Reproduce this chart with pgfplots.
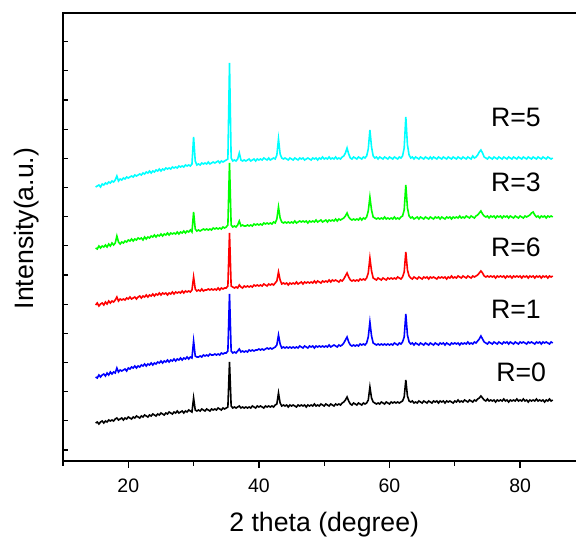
\documentclass[border=0pt]{standalone}
\usepackage{fontspec}
\setmainfont{Liberation Sans}
\usepackage{pgfplots}
\usepackage{pgfplotstable}
\pgfplotsset{compat=1.18}
\definecolor{xcyan}{RGB}{0,255,255}
\definecolor{xgreen}{RGB}{0,255,0}
\definecolor{xblue}{RGB}{0,0,255}
\definecolor{xred}{RGB}{255,0,0}
% x = 2theta, k = R=0, b = R=1, r = R=6, g = R=3, c = R=5 (offset stack, arbitrary units)
\pgfplotstableread{
x k b r g c
15.00 38 84 156 213 274
15.25 39 83 158 212 275
15.50 37 86 155 215 276
15.75 39 84 157 213 274
16.00 40 86 158 215 277
16.25 38 87 156 214 276
16.50 40 85 159 216 278
16.75 39 88 157 214 277
17.00 41 86 160 217 279
17.25 40 89 158 215 278
17.50 41 87 160 218 280
17.75 40 89 159 216 279
18.00 42 88 161 218 281
18.25 43 93 164 225 285
18.50 41 89 160 219 280
18.75 42 91 162 217 282
19.00 43 90 161 219 281
19.25 41 91 162 218 283
19.50 43 92 161 220 282
19.75 42 90 163 219 284
20.00 44 93 162 221 283
20.25 43 92 164 220 284
20.50 42 94 162 222 285
20.75 44 93 163 220 284
21.00 43 95 164 222 286
21.25 45 93 162 221 285
21.50 44 95 164 223 286
21.75 43 94 165 222 287
22.00 45 96 163 223 286
22.25 44 95 165 221 288
22.50 46 97 164 224 287
22.75 45 95 166 222 289
23.00 44 97 164 224 288
23.25 46 96 166 223 290
23.50 45 98 165 225 288
23.75 47 96 167 224 290
24.00 46 98 165 226 289
24.25 45 97 167 224 291
24.50 47 99 166 226 290
24.75 46 98 168 225 292
25.00 48 100 166 227 290
25.25 47 98 168 225 292
25.50 46 100 167 227 291
25.75 48 99 168 226 293
26.00 47 101 166 228 292
26.25 49 99 168 226 293
26.50 48 101 167 228 292
26.75 47 100 169 227 294
27.00 49 102 167 228 293
27.25 48 100 169 227 294
27.50 50 102 168 229 293
27.75 48 101 169 227 295
28.00 49 103 168 229 294
28.25 50 101 170 228 295
28.50 48 103 168 230 294
28.75 50 102 170 228 296
29.00 49 104 169 230 295
29.25 51 102 170 229 296
29.50 50 104 169 231 295
29.75 49 103 171 229 297
30.00 63 120 184 249 324
30.25 51 105 172 232 300
30.50 50 104 170 230 296
30.75 51 104 171 231 297
31.00 50 105 170 230 296
31.25 52 104 172 231 298
31.50 51 106 170 232 297
31.75 50 105 171 231 298
32.00 52 106 171 232 297
32.25 51 105 172 231 299
32.50 50 107 171 232 297
32.75 52 106 172 231 298
33.00 51 106 171 233 299
33.25 52 107 172 232 298
33.50 51 106 171 233 299
33.75 53 107 173 232 300
34.00 52 106 171 233 298
34.25 51 108 173 232 300
34.50 53 107 172 234 299
34.75 52 108 173 233 300
35.00 53 108 173 234 301
35.25 54 110 175 236 302
35.50 99 167 228 298 398
35.75 55 110 175 236 303
36.00 53 108 174 234 300
36.25 54 109 173 235 301
36.50 53 108 174 234 300
36.75 54 110 173 236 302
37.00 55 112 176 240 308
37.25 53 109 174 235 301
37.50 54 110 173 236 300
37.75 53 109 175 235 301
38.00 54 110 174 235 300
38.25 53 109 175 236 301
38.50 54 111 174 235 302
38.75 53 110 175 236 300
39.00 55 111 174 235 301
39.25 54 110 176 237 302
39.50 53 111 175 236 300
39.75 55 111 176 237 302
40.00 54 112 175 236 301
40.25 55 111 176 237 302
40.50 54 112 175 236 301
40.75 53 111 177 238 303
41.00 55 112 176 237 302
41.25 54 113 175 238 301
41.50 55 112 177 237 303
41.75 54 113 176 238 301
42.00 55 112 177 237 302
42.25 54 113 176 239 303
42.50 56 114 178 238 302
42.75 57 116 180 242 306
43.00 68 126 189 254 322
43.25 58 117 181 243 307
43.50 55 113 177 239 303
43.75 56 114 178 238 302
44.00 55 113 177 239 303
44.25 56 114 178 238 302
44.50 54 113 176 239 301
44.75 56 114 178 238 303
45.00 55 113 177 239 302
45.25 56 114 178 238 301
45.50 55 113 177 240 303
45.75 54 114 179 238 302
46.00 56 113 177 239 301
46.25 55 115 178 240 303
46.50 56 114 179 239 302
46.75 55 113 177 240 303
47.00 56 115 179 239 301
47.25 54 114 178 240 302
47.50 56 113 179 238 303
47.75 55 115 178 240 302
48.00 56 114 179 239 301
48.25 55 115 178 240 303
48.50 57 113 180 239 302
48.75 55 115 178 241 303
49.00 56 114 180 239 301
49.25 55 115 179 240 303
49.50 57 114 178 241 302
49.75 56 115 180 239 304
50.00 55 114 179 240 302
50.25 57 115 180 241 303
50.50 56 114 179 239 302
50.75 55 116 181 241 304
51.00 57 114 179 240 302
51.25 56 115 181 241 303
51.50 55 116 180 240 302
51.75 57 115 181 242 304
52.00 56 114 180 240 302
52.25 57 116 179 242 303
52.50 56 115 181 241 302
52.75 58 116 180 242 304
53.00 59 118 182 243 305
53.25 61 121 185 245 308
53.50 64 124 188 248 313
53.75 60 119 184 244 307
54.00 57 116 181 242 303
54.25 56 115 180 241 302
54.50 58 116 181 242 304
54.75 57 115 180 241 303
55.00 56 116 181 242 302
55.25 58 115 180 241 304
55.50 57 117 182 243 303
55.75 56 116 181 241 302
56.00 58 117 182 243 304
56.25 57 116 181 242 303
56.50 58 118 183 244 305
56.75 61 124 188 250 312
57.00 74 139 203 264 331
57.25 63 125 190 251 314
57.50 59 118 183 244 305
57.75 58 117 182 243 303
58.00 57 116 181 242 304
58.25 58 117 183 243 302
58.50 57 116 182 242 304
58.75 59 117 181 243 303
59.00 58 116 183 242 302
59.25 57 117 182 244 304
59.50 59 116 181 242 303
59.75 58 117 183 243 302
60.00 57 116 182 242 304
60.25 59 117 183 243 303
60.50 58 116 182 242 302
60.75 59 118 183 244 304
61.00 58 117 182 242 303
61.25 59 116 184 243 302
61.50 58 118 183 242 304
61.75 59 117 182 244 303
62.00 60 119 184 245 305
62.25 64 124 189 251 313
62.50 81 147 209 276 344
62.75 65 126 191 253 316
63.00 60 119 185 245 306
63.25 59 117 183 243 303
63.50 60 118 182 244 304
63.75 58 116 184 242 302
64.00 59 118 183 243 304
64.25 58 117 182 244 303
64.50 60 116 184 242 302
64.75 59 118 183 244 304
65.00 58 117 182 243 303
65.25 60 116 184 242 302
65.50 59 118 183 244 304
65.75 58 117 184 243 303
66.00 60 116 182 242 302
66.25 59 118 184 244 304
66.50 58 117 183 243 302
66.75 60 116 184 242 304
67.00 59 118 183 244 303
67.25 60 117 182 243 302
67.50 58 116 184 244 304
67.75 60 118 183 242 303
68.00 59 117 184 244 302
68.25 60 118 183 243 304
68.50 58 116 184 242 303
68.75 60 118 182 244 302
69.00 59 117 184 243 304
69.25 60 116 183 244 303
69.50 59 118 185 242 302
69.75 58 117 183 244 304
70.00 60 118 184 243 303
70.25 59 117 183 244 302
70.50 61 118 185 243 304
70.75 59 116 184 245 303
71.00 60 118 183 243 302
71.25 59 117 185 244 304
71.50 61 118 184 243 303
71.75 60 117 183 245 302
72.00 59 119 185 244 304
72.25 61 117 184 243 303
72.50 60 118 183 245 302
72.75 59 117 185 244 305
73.00 61 119 184 243 303
73.25 60 118 185 245 304
73.50 62 120 186 246 306
73.75 63 122 188 248 309
74.00 65 125 190 250 311
74.25 63 122 188 247 308
74.50 61 119 185 245 304
74.75 60 118 184 244 303
75.00 62 117 185 245 302
75.25 60 119 184 243 304
75.50 61 118 185 245 303
75.75 60 117 184 244 302
76.00 61 119 185 245 304
76.25 59 118 183 243 303
76.50 61 117 185 245 302
76.75 60 119 184 244 304
77.00 61 118 185 245 303
77.25 60 117 184 243 302
77.50 62 119 185 245 304
77.75 60 118 183 244 303
78.00 61 119 185 245 302
78.25 59 117 184 243 304
78.50 61 119 185 245 303
78.75 60 118 183 244 302
79.00 61 117 185 243 304
79.25 60 119 184 245 303
79.50 62 118 185 244 302
79.75 60 117 184 243 304
80.00 61 119 185 245 303
80.25 60 118 183 244 302
80.50 62 119 185 243 304
80.75 60 118 184 245 303
81.00 61 117 185 244 302
81.25 59 119 183 245 304
81.50 61 118 185 246 303
81.75 60 119 184 248 302
82.00 61 118 185 249 304
82.25 60 117 183 246 303
82.50 62 119 185 244 302
82.75 60 118 184 245 304
83.00 61 119 185 243 303
83.25 60 117 183 245 302
83.50 61 119 185 244 304
83.75 59 118 184 245 303
84.00 61 119 185 243 302
84.25 60 118 183 245 304
84.50 62 117 185 244 303
84.75 60 119 184 245 302
85.00 61 118 185 244 303
}\xrd
\pgfplotsset{
    xrdframe/.style={
        scale only axis,
        width=391.8pt, height=336pt,
        xmin=10, xmax=90, ymin=0, ymax=448,
        axis line style={line width=1.2pt},
        tick style={line width=1pt, black},
    },
}
\begin{document}
\begin{tikzpicture}
\begin{axis}[
    xrdframe,
    xtick={20,40,60,80},
    minor xtick={10,30,50,70,90},
    ytick=\empty,
    xtick pos=bottom, ytick pos=left,
    tick align=outside,
    major tick length=5pt, minor tick length=3.5pt,
    /pgf/number format/assume math mode=true,
    ticklabel style={font=\fontsize{14.6}{17}\selectfont},
    xticklabel style={yshift=-5pt},
    xlabel={2 theta (degree)},
    ylabel={Intensity(a.u.)},
    every axis x label/.style={at={([yshift=-48pt]rel axis cs:0.5,0)}, anchor=center},
    every axis y label/.style={at={([xshift=-27pt]rel axis cs:0,0.519)}, anchor=center, rotate=90},
    label style={font=\fontsize{20}{24}\selectfont},
    every axis plot/.append style={line width=1.2pt},
]
\addplot[black] table[x=x, y=k] {\xrd};
\addplot[xblue] table[x=x, y=b] {\xrd};
\addplot[xred] table[x=x, y=r] {\xrd};
\addplot[xgreen] table[x=x, y=g] {\xrd};
\addplot[xcyan] table[x=x, y=c] {\xrd};
\node[anchor=east, inner sep=0pt, font=\fontsize{20}{24}\selectfont] at (axis cs:83.2,343.5) {R=5};
\node[anchor=east, inner sep=0pt, font=\fontsize{20}{24}\selectfont] at (axis cs:83.2,278.5) {R=3};
\node[anchor=east, inner sep=0pt, font=\fontsize{20}{24}\selectfont] at (axis cs:83.2,213.5) {R=6};
\node[anchor=east, inner sep=0pt, font=\fontsize{20}{24}\selectfont] at (axis cs:83.2,152) {R=1};
\node[anchor=east, inner sep=0pt, font=\fontsize{20}{24}\selectfont] at (axis cs:84,89) {R=0};
\end{axis}
% inward y ticks, unlabeled
\begin{axis}[
    xrdframe,
    xtick=\empty,
    ytick={11,40.17,69.33,98.5,127.67,156.83,186,215.17,244.33,273.5,302.67,331.83,361,390.17,419.33},
    yticklabels={},
    ytick pos=left,
    tick align=inside,
    major tick length=3.5pt,
]
\end{axis}
\pgfresetboundingbox
\path[use as bounding box] ([xshift=-47.25pt, yshift=-59.25pt]current axis.south west)
    rectangle ([xshift=384.75pt, yshift=9.75pt]current axis.north west);
\end{tikzpicture}
\end{document}
